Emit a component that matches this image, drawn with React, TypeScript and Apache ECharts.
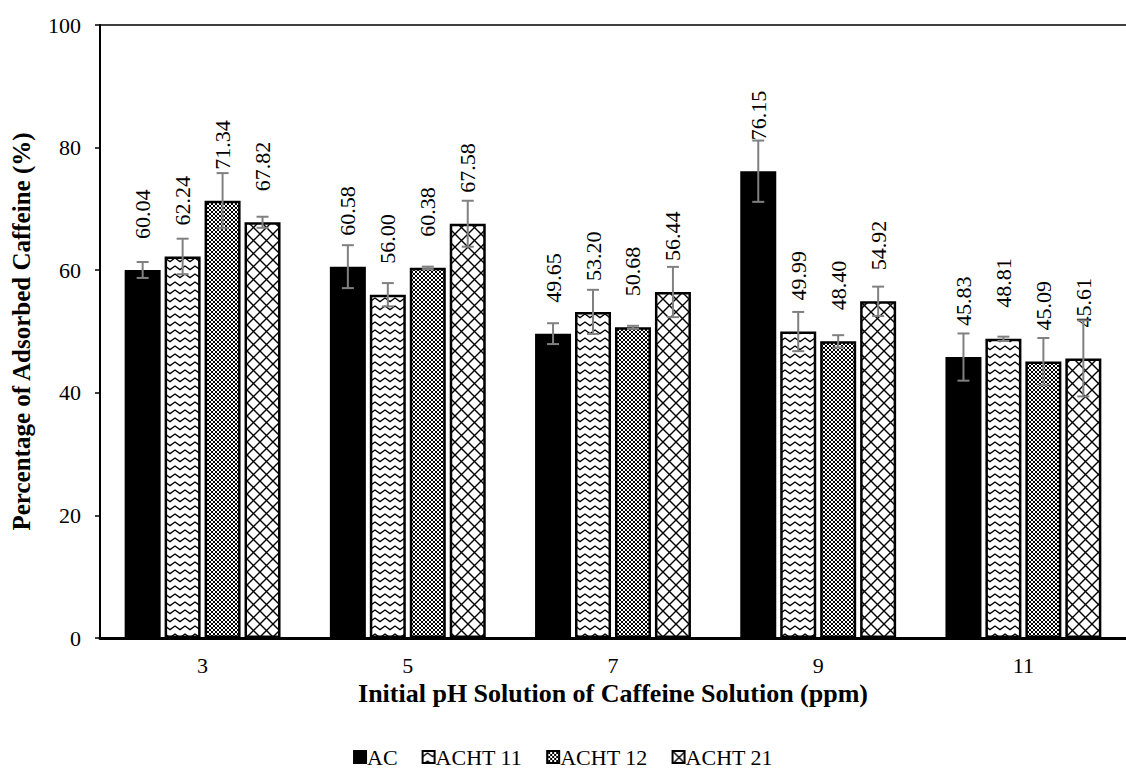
import React, { useEffect, useRef } from "react";
import * as echarts from "echarts";

const categories = ["3", "5", "7", "9", "11"];
const seriesNames = ["AC", "ACHT 11", "ACHT 12", "ACHT 21"];
const acValues = [60.04, 60.58, 49.65, 76.15, 45.83];
const acht11Values = [62.24, 56.0, 53.2, 49.99, 48.81];
const acht12Values = [71.34, 60.38, 50.68, 48.4, 45.09];
const acht21Values = [67.82, 67.58, 56.44, 54.92, 45.61];
const acErrors = [1.3, 3.5, 1.7, 5.0, 3.85];
const acht11Errors = [2.9, 1.9, 3.6, 3.2, 0.35];
const acht12Errors = [4.5, 0.2, 0.25, 1.0, 3.85];
const acht21Errors = [0.9, 3.75, 4.1, 2.4, 6.2];
const yTicks = [0, 20, 40, 60, 80, 100];

const allValues = [acValues, acht11Values, acht12Values, acht21Values];
const allErrors = [acErrors, acht11Errors, acht12Errors, acht21Errors];

const FONT = "'Liberation Serif', 'Times New Roman', serif";
const BAR_W = 36;
const BAR_GAP_PCT = 11;

function makeTile(w: number, h: number, draw: (ctx: CanvasRenderingContext2D) => void) {
  const c = document.createElement("canvas");
  c.width = w;
  c.height = h;
  const ctx = c.getContext("2d") as CanvasRenderingContext2D;
  draw(ctx);
  return c;
}

function buildFills() {
  const wave = makeTile(10, 8, (ctx) => {
    ctx.fillStyle = "#fff";
    ctx.fillRect(0, 0, 10, 8);
    ctx.strokeStyle = "#000";
    ctx.lineWidth = 1.4;
    ctx.beginPath();
    ctx.moveTo(-0.5, 6);
    ctx.lineTo(5, 2);
    ctx.lineTo(10.5, 6);
    ctx.stroke();
  });
  const dots = makeTile(4, 4, (ctx) => {
    ctx.fillStyle = "#000";
    ctx.fillRect(0, 0, 4, 4);
    ctx.fillStyle = "#fff";
    ctx.fillRect(1, 0, 2, 1);
    ctx.fillRect(0, 1, 1, 2);
    ctx.fillRect(3, 1, 1, 2);
    ctx.fillRect(1, 3, 2, 1);
  });
  const lattice = makeTile(13, 13, (ctx) => {
    ctx.fillStyle = "#fff";
    ctx.fillRect(0, 0, 13, 13);
    ctx.strokeStyle = "#000";
    ctx.lineWidth = 1.4;
    ctx.beginPath();
    ctx.moveTo(0, 0);
    ctx.lineTo(13, 13);
    ctx.moveTo(13, 0);
    ctx.lineTo(0, 13);
    ctx.stroke();
  });
  return [
    "#000000",
    { image: wave, repeat: "repeat" },
    { image: dots, repeat: "repeat" },
    { image: lattice, repeat: "repeat" },
  ];
}

export default function App() {
  const ref = useRef<HTMLDivElement>(null);

  useEffect(() => {
    if (!ref.current) return;
    const chart = echarts.init(ref.current, null, { renderer: "svg" });
    const fills = buildFills();
    const step = BAR_W * (1 + BAR_GAP_PCT / 100);

    const barSeries = seriesNames.map((name, si) => ({
      name,
      type: "bar",
      xAxisIndex: 0,
      yAxisIndex: 0,
      barWidth: BAR_W,
      barGap: BAR_GAP_PCT + "%",
      data: allValues[si],
      itemStyle: {
        color: fills[si],
        borderColor: "#000",
        borderWidth: 2.5,
      },
      label: {
        show: true,
        position: "top",
        rotate: 90,
        align: "left",
        verticalAlign: "middle",
        distance: 31,
        fontFamily: FONT,
        fontSize: 22,
        color: "#000",
        formatter: (p: any) => Number(p.value).toFixed(2),
      },
      z: 2,
    }));

    const errSeries = seriesNames.map((name, si) => ({
      name: name + " err",
      type: "custom",
      xAxisIndex: 0,
      yAxisIndex: 0,
      z: 5,
      silent: true,
      clip: false,
      data: allValues[si].map((v, i) => [i, v - allErrors[si][i], v + allErrors[si][i]]),
      renderItem: (params: any, api: any) => {
        const idx = api.value(0);
        const lo = api.coord([idx, api.value(1)]);
        const hi = api.coord([idx, api.value(2)]);
        const x = lo[0] + (si - 1.5) * step;
        const cap = 6;
        const style = { stroke: "#808080", lineWidth: 2 };
        return {
          type: "group",
          children: [
            { type: "line", shape: { x1: x, y1: lo[1], x2: x, y2: hi[1] }, style },
            { type: "line", shape: { x1: x - cap, y1: lo[1], x2: x + cap, y2: lo[1] }, style },
            { type: "line", shape: { x1: x - cap, y1: hi[1], x2: x + cap, y2: hi[1] }, style },
          ],
        };
      },
    }));

    chart.setOption({
      animation: false,
      backgroundColor: "#fff",
      grid: { left: 100, top: 25, width: 1035, height: 613, containLabel: false },
      legend: {
        data: seriesNames,
        left: "center",
        top: 741,
        itemWidth: 12,
        itemHeight: 12,
        itemGap: 24,
        icon: "rect",
        textStyle: { fontFamily: FONT, fontSize: 22, color: "#000", padding: [0, 0, 0, -4] },
      },
      xAxis: [
        {
          type: "category",
          data: categories,
          position: "bottom",
          axisLine: { lineStyle: { color: "#000", width: 3 } },
          axisTick: { show: false },
          axisLabel: { fontFamily: FONT, fontSize: 22, color: "#000", margin: 16 },
          name: "Initial pH Solution of Caffeine Solution (ppm)",
          nameLocation: "middle",
          nameGap: 40,
          nameTextStyle: { fontFamily: FONT, fontSize: 26, fontWeight: "bold", color: "#000" },
        },
        {
          type: "category",
          data: categories,
          position: "top",
          axisLine: { lineStyle: { color: "#000", width: 1.5 } },
          axisTick: { show: false },
          axisLabel: { show: false },
        },
      ],
      yAxis: {
        type: "value",
        min: yTicks[0],
        max: yTicks[yTicks.length - 1],
        interval: 20,
        axisLine: { show: true, lineStyle: { color: "#000", width: 2 } },
        axisTick: { show: true, length: 5, lineStyle: { color: "#000", width: 1.5 } },
        splitLine: { show: false },
        axisLabel: { fontFamily: FONT, fontSize: 22, color: "#000", margin: 19 },
        name: "Percentage of Adsorbed Caffeine (%)",
        nameLocation: "middle",
        nameGap: 66,
        nameTextStyle: { fontFamily: FONT, fontSize: 25, fontWeight: "bold", color: "#000" },
      },
      series: [...barSeries, ...errSeries],
    });

    return () => chart.dispose();
  }, []);

  return (
    <div
      ref={ref}
      style={{ position: "fixed", left: 0, top: 0, width: 1126, height: 780, background: "#fff" }}
    />
  );
}
